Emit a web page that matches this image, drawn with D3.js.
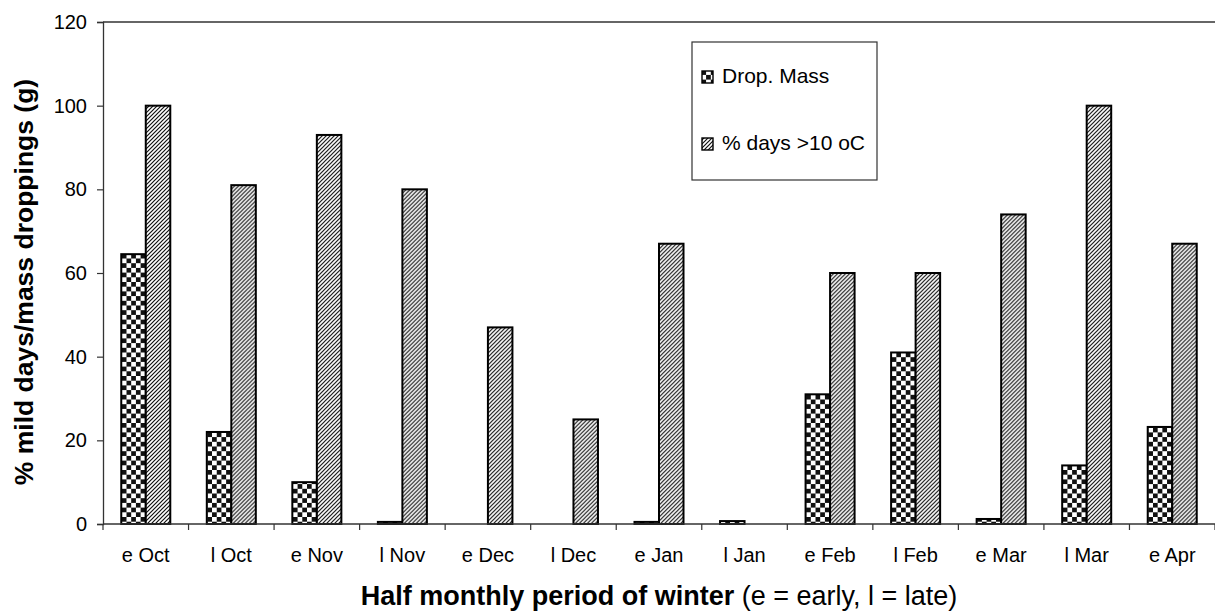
<!DOCTYPE html>
<html>
<head>
<meta charset="utf-8">
<script src="https://cdn.jsdelivr.net/npm/d3@7"></script>
<style>
  body { margin: 0; background: #fff; }
  text { font-family: "Liberation Sans", Arial, sans-serif; fill: #000; }
</style>
</head>
<body>
<script>
const categories = ['e Oct', 'l Oct', 'e Nov', 'l Nov', 'e Dec', 'l Dec', 'e Jan', 'l Jan', 'e Feb', 'l Feb', 'e Mar', 'l Mar', 'e Apr']
const dropMass = [64.5, 22, 10, 0.5, 0, 0, 0.5, 0.7, 31, 41, 1.2, 14, 23.2]
const mildDays = [100, 81, 93, 80, 47, 25, 67, 0, 60, 60, 74, 100, 67]
const seriesNames = ['Drop. Mass', '% days >10 oC']
const yTicks = [0, 20, 40, 60, 80, 100, 120]

const width = 1215, height = 615
const mLeft = 103, mRight = 1215, mTop = 22, mBottom = 524

const svg = d3.select('body').append('svg').attr('width', width).attr('height', height)
const defs = svg.append('defs')

// checker pattern
const chk = defs.append('pattern').attr('id', 'checker')
    .attr('patternUnits', 'userSpaceOnUse').attr('width', 9.4).attr('height', 9.4)
chk.append('rect').attr('width', 9.4).attr('height', 9.4).attr('fill', '#fff')
chk.append('rect').attr('width', 4.7).attr('height', 4.7).attr('fill', '#111')
chk.append('rect').attr('x', 4.7).attr('y', 4.7).attr('width', 4.7).attr('height', 4.7).attr('fill', '#111')

// diagonal hatch
const hat = defs.append('pattern').attr('id', 'hatch')
    .attr('patternUnits', 'userSpaceOnUse').attr('width', 4).attr('height', 4)
hat.append('rect').attr('width', 4).attr('height', 4).attr('fill', '#fff')
hat.append('path').attr('d', 'M-1,1 L1,-1 M0,4 L4,0 M3,5 L5,3')
    .attr('stroke', '#111').attr('stroke-width', 1.2)

const fills = ['url(#checker)', 'url(#hatch)']

const x = d3.scaleBand().domain(categories).range([mLeft, mRight]).padding(0)
const xs = d3.scaleBand().domain(seriesNames).range([0, x.bandwidth()])
    .paddingInner(0).paddingOuter(0.745)
const y = d3.scaleLinear().domain([0, 120]).range([mBottom, mTop])

// top frame line
svg.append('line').attr('x1', mLeft).attr('x2', mRight).attr('y1', y(120)).attr('y2', y(120))
    .attr('stroke', '#333').attr('stroke-width', 1.3)

// bars
const rows = categories.map((c, i) => ({ cat: c, vals: [dropMass[i], mildDays[i]] }))
const groups = svg.selectAll('g.grp').data(rows).enter().append('g')
    .attr('transform', d => `translate(${x(d.cat)},0)`)
groups.selectAll('rect')
    .data(d => d.vals.map((v, k) => ({ v, k })).filter(e => e.v > 0))
    .enter().append('rect')
    .attr('x', e => xs(seriesNames[e.k]))
    .attr('width', xs.bandwidth())
    .attr('y', e => y(e.v))
    .attr('height', e => mBottom - y(e.v))
    .attr('fill', e => fills[e.k])
    .attr('stroke', '#000').attr('stroke-width', 2)

// y axis
const yAxis = svg.append('g').attr('transform', `translate(${mLeft},0)`)
    .call(d3.axisLeft(y).tickValues(yTicks).tickSize(6).tickPadding(10))
yAxis.select('.domain').attr('stroke', '#333').attr('stroke-width', 1.3)
yAxis.selectAll('.tick line').attr('stroke', '#333').attr('stroke-width', 1.2)
yAxis.selectAll('text').style('font-size', '20px').style('font-family', '"Liberation Sans", Arial, sans-serif')

// x axis (ticks on category boundaries)
svg.append('line').attr('x1', mLeft).attr('x2', mRight).attr('y1', mBottom).attr('y2', mBottom)
    .attr('stroke', '#333').attr('stroke-width', 1.3)
svg.selectAll('line.xtick').data(categories.concat(['end'])).enter().append('line')
    .attr('x1', (d, i) => mLeft + i * x.step()).attr('x2', (d, i) => mLeft + i * x.step())
    .attr('y1', mBottom).attr('y2', mBottom + 6)
    .attr('stroke', '#333').attr('stroke-width', 1.2)
svg.selectAll('text.xlab').data(categories).enter().append('text')
    .attr('x', d => x(d) + x.bandwidth() / 2).attr('y', 562)
    .attr('text-anchor', 'middle').style('font-size', '20px')
    .text(d => d)

// axis titles
const xt = svg.append('text').attr('x', (mLeft + mRight) / 2).attr('y', 605).attr('text-anchor', 'middle')
    .style('font-size', '27px')
xt.append('tspan').attr('font-weight', 'bold').text('Half monthly period of winter')
xt.append('tspan').text(' (e = early, l = late)')

svg.append('text').attr('transform', 'translate(33,282) rotate(-90)')
    .attr('text-anchor', 'middle').style('font-size', '26.5px').attr('font-weight', 'bold')
    .text('% mild days/mass droppings (g)')

// legend
const lg = svg.append('g').attr('transform', 'translate(692,42)')
lg.append('rect').attr('width', 185).attr('height', 138).attr('fill', '#fff')
    .attr('stroke', '#333').attr('stroke-width', 1.2)
seriesNames.forEach((s, k) => {
    const yy = 41 + k * 67
    lg.append('rect').attr('x', 10).attr('y', yy - 12).attr('width', 11).attr('height', 12)
        .attr('fill', fills[k]).attr('stroke', '#000').attr('stroke-width', 1.4)
    lg.append('text').attr('x', 30).attr('y', yy).style('font-size', '21px').text(s)
})
</script>
</body>
</html>
